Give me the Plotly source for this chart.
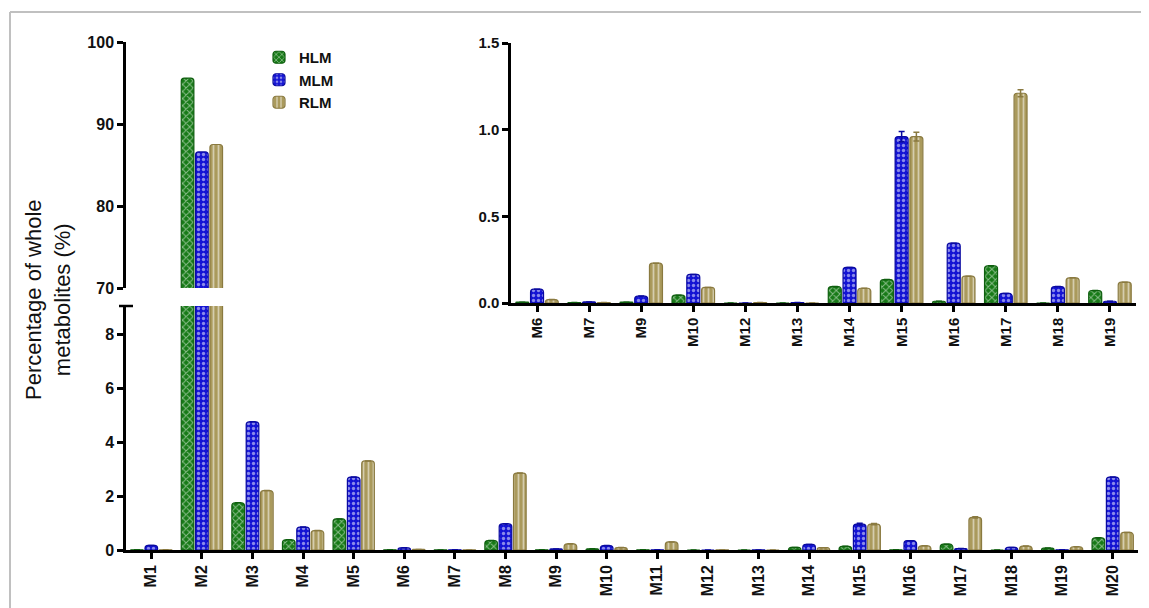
import plotly.graph_objects as go

categories = ["M1", "M2", "M3", "M4", "M5", "M6", "M7", "M8", "M9", "M10",
              "M11", "M12", "M13", "M14", "M15", "M16", "M17", "M18", "M19", "M20"]
hlm = [0.01, 95.6, 1.75, 0.38, 1.15, 0.005, 0.003, 0.35, 0.005, 0.045,
       0.01, 0.0, 0.0, 0.095, 0.135, 0.01, 0.215, 0.0, 0.072, 0.45]
mlm = [0.17, 86.6, 4.75, 0.85, 2.7, 0.08, 0.006, 0.97, 0.04, 0.165,
       0.01, 0.0, 0.003, 0.205, 0.96, 0.345, 0.055, 0.095, 0.01, 2.7]
rlm = [0.01, 87.5, 2.2, 0.72, 3.3, 0.02, 0.003, 2.85, 0.23, 0.09,
       0.3, 0.003, 0.0, 0.085, 0.96, 0.155, 1.21, 0.145, 0.12, 0.65]
hlm_err = [0, 0, 0, 0, 0, 0, 0, 0, 0, 0,
           0, 0, 0, 0, 0, 0, 0, 0, 0, 0]
mlm_err = [0, 0, 0, 0, 0, 0, 0, 0, 0, 0,
           0, 0, 0, 0, 0.03, 0, 0, 0, 0, 0]
rlm_err = [0, 0, 0, 0, 0, 0, 0, 0, 0, 0,
           0, 0, 0, 0, 0.025, 0, 0.02, 0, 0, 0]
inset_categories = ["M6", "M7", "M9", "M10", "M12", "M13", "M14", "M15",
                    "M16", "M17", "M18", "M19"]

series_names = ["HLM", "MLM", "RLM"]
colors = ["#177a17", "#1414d4", "#aa9a5c"]
line_colors = ["#0f5f0f", "#0a0aa0", "#8a7a40"]
patterns = ["x", ".", "|"]
values = [hlm, mlm, rlm]
errors = [hlm_err, mlm_err, rlm_err]

# page body has an 8px margin; lay out in page pixels and compensate
OFF = 8
W, H = 1149 - OFF, 608 - OFF
def fx(px):
    return (px - OFF) / W
def fy(py):
    return 1 - (py - OFF) / H

FONT = "Liberation Sans, Arial, sans-serif"

fig = go.Figure()
idx = [categories.index(c) for c in inset_categories]

for i in range(3):
    marker = dict(color=colors[i], line=dict(color=line_colors[i], width=1.2),
                  pattern=dict(shape=patterns[i], fgcolor="white", fillmode="overlay",
                               size=5, solidity=0.35))
    err = dict(type="data", array=errors[i], color=line_colors[i], thickness=1.5, width=3)
    fig.add_trace(go.Bar(x=categories, y=values[i], name=series_names[i], marker=marker,
                         error_y=err, xaxis="x", yaxis="y", showlegend=True,
                         legendgroup=series_names[i]))
    fig.add_trace(go.Bar(x=categories, y=values[i], name=series_names[i], marker=marker,
                         xaxis="x2", yaxis="y2", showlegend=False,
                         legendgroup=series_names[i]))
    fig.add_trace(go.Bar(x=inset_categories, y=[values[i][k] for k in idx],
                         name=series_names[i], marker=marker,
                         error_y=dict(type="data", array=[errors[i][k] for k in idx],
                                      color=line_colors[i], thickness=1.5, width=3),
                         xaxis="x3", yaxis="y3", showlegend=False,
                         legendgroup=series_names[i]))

def tf(size):
    return dict(family=FONT, size=size, color="#111", weight="bold")

axis_common = dict(showline=True, linecolor="black", linewidth=2.5, ticks="outside",
                   tickcolor="black", tickwidth=2.5, ticklen=6, showgrid=False,
                   zeroline=False, automargin=False)

fig.update_layout(
    width=W, height=H,
    margin=dict(l=0, r=0, t=0, b=0, pad=0),
    plot_bgcolor="white", paper_bgcolor="white",
    barmode="group", bargap=0.15, bargroupgap=0.12, barcornerradius=3,
    font=dict(family=FONT, color="#111"),
    xaxis=dict(domain=[fx(126), fx(1138)], anchor="y", range=[-0.5, 19.5],
               tickangle=-90, tickfont=tf(16), **axis_common),
    yaxis=dict(domain=[fy(550), fy(306)], anchor="x", range=[0, 9.04],
               tickvals=[0, 2, 4, 6, 8], tickfont=tf(16), **axis_common),
    xaxis2=dict(domain=[fx(126), fx(1138)], anchor="y2", range=[-0.5, 19.5],
                visible=False, matches="x", automargin=False),
    yaxis2=dict(domain=[fy(288), fy(42)], anchor="x2", range=[70, 100],
                tickvals=[70, 80, 90, 100], tickfont=tf(16), **axis_common),
    xaxis3=dict(domain=[fx(511), fx(1136)], anchor="y3", range=[-0.5, 11.5],
                tickangle=-90, tickfont=tf(15), **axis_common),
    yaxis3=dict(domain=[fy(303), fy(43)], anchor="x3", range=[0, 1.5],
                tickvals=[0, 0.5, 1.0, 1.5], tickformat=".1f", tickfont=tf(15),
                **axis_common),
    legend=dict(x=fx(259), y=fy(41), xanchor="left", yanchor="top",
                bgcolor="rgba(0,0,0,0)", font=dict(family=FONT, size=15, color="#111",
                                                   weight="bold"),
                itemwidth=30, tracegroupgap=0),
    annotations=[
        dict(text="Percentage of whole<br>metabolites (%)", xref="paper", yref="paper",
             x=fx(48), y=fy(300), xanchor="center", yanchor="middle",
             showarrow=False, textangle=-90,
             font=dict(family=FONT, size=22, color="#111"), align="center"),
    ],
    shapes=[
        dict(type="line", xref="paper", yref="paper", x0=fx(10), x1=fx(10), y0=0, y1=fy(12),
             line=dict(color="#c0c0c0", width=2)),
        dict(type="line", xref="paper", yref="paper", x0=fx(10), x1=1, y0=fy(12), y1=fy(12),
             line=dict(color="#c0c0c0", width=2)),
        dict(type="line", xref="paper", yref="paper", x0=fx(119), x1=fx(133),
             y0=fy(306), y1=fy(306), line=dict(color="black", width=2.5)),
    ],
)

fig.write_html("out.html")
